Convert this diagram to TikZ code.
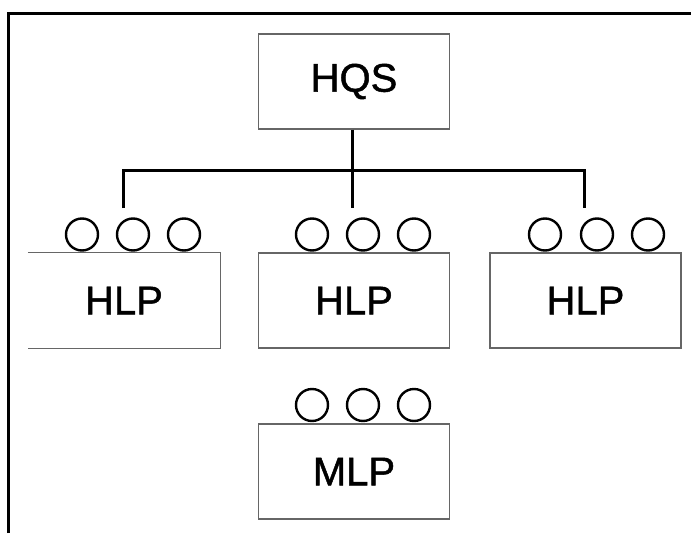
\documentclass[tikz,border=0pt]{standalone}
\usepackage{fontspec}
\setmainfont{Liberation Sans}
\newfontfamily\labelfont[FakeBold=1.2]{Liberation Sans}
\begin{document}
\begin{tikzpicture}[x=1pt,y=-1pt,
  boxline/.style={draw=black!60, line width=1.1pt},
  box/.style={boxline, minimum width=191pt, minimum height=95pt, inner sep=0pt,
              font=\labelfont\fontsize{40}{48}\selectfont},
  port/.style={circle, draw=black, line width=2.4pt, minimum size=32pt, inner sep=0pt},
  wire/.style={line width=3pt},
  frame/.style={line width=3pt}]
\useasboundingbox (0,0) rectangle (691,533);
\fill[white] (0,0) rectangle (691,533);
\draw[frame] (8,533) -- (8,13.5) -- (691,13.5);

% boxes
\node[box] (hqs) at (354,81.5) {HQS};
\node[box, draw=none] (hlp1) at (124,300.5) {HLP};
\draw[boxline] (hlp1.north west) -- (hlp1.north east) -- (hlp1.south east) -- (hlp1.south west);
\node[box] (hlp2) at (354,300.5) {HLP};
\node[box] (hlp3) at (585.5,300.5) {HLP};
\node[box] (mlp) at (354,471.5) {MLP};

% ports
\node[port] (p1a) at (82,234.5) {};
\node[port] (p1b) at (133,234.5) {};
\node[port] (p1c) at (184,234.5) {};
\node[port] (p2a) at (312,234.5) {};
\node[port] (p2b) at (363,234.5) {};
\node[port] (p2c) at (414,234.5) {};
\node[port] (p3a) at (545,234.5) {};
\node[port] (p3b) at (597,234.5) {};
\node[port] (p3c) at (648,234.5) {};
\node[port] (p4a) at (312,405) {};
\node[port] (p4b) at (363,405) {};
\node[port] (p4c) at (414,405) {};

% connectors
\coordinate (bus) at (352,170);
\coordinate (d1) at (123,208);
\coordinate (d2) at (352,208);
\coordinate (d3) at (584,208);
\draw[wire] (d1) |- (bus) -| (d3);
\draw[wire] (bus |- hqs.south) -- (d2);
\end{tikzpicture}
\end{document}
